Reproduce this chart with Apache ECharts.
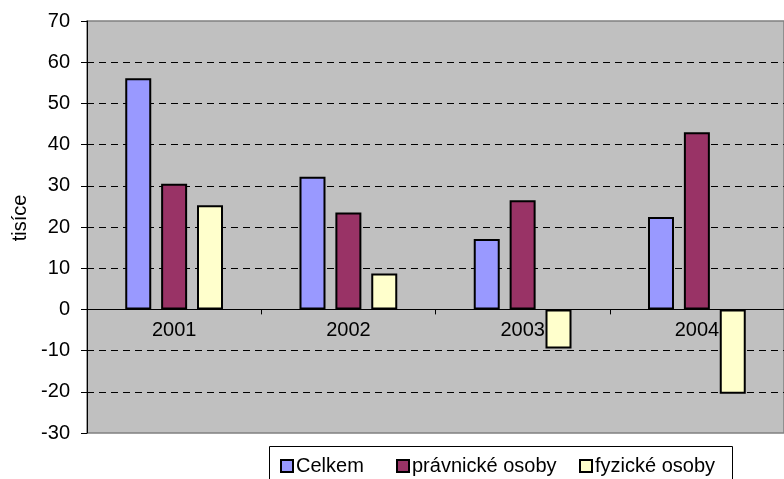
<!DOCTYPE html>
<html>
<head>
<meta charset="utf-8">
<script src="https://cdn.jsdelivr.net/npm/echarts@6/dist/echarts.min.js"></script>
<style>
html, body { margin: 0; padding: 0; background: #fff; }
#container { width: 784px; height: 479px; }
</style>
</head>
<body>
<div id="container"></div>
<script>
var roky = ['2001', '2002', '2003', '2004'];
var celkem = [56.1, 32.2, 17.1, 22.4];
var pravnicke = [30.5, 23.5, 26.5, 43.0];
var fyzicke = [25.3, 8.7, -9.5, -20.5];
var nazvy = ['Celkem', 'právnické osoby', 'fyzické osoby'];
var barvy = ['#9999FF', '#993366', '#FFFFCC'];

var dom = document.getElementById("container");
var myChart = echarts.init(dom);
var pismo = 'Liberation Sans, Arial, sans-serif';

function rada(i, data) {
	return {
		name : nazvy[i],
		type : 'bar',
		data : data,
		barWidth : 26,
		barGap : '38%',
		itemStyle : {
			color : barvy[i],
			borderColor : '#000',
			borderWidth : 2
		}
	};
}

function legenda(i, x) {
	return {
		data : [ nazvy[i] ],
		left : x,
		top : 456,
		icon : 'rect',
		itemWidth : 12,
		itemHeight : 12,
		itemGap : 0,
		padding : 0,
		selectedMode : false,
		textStyle : { fontFamily : pismo, fontSize : 20, color : '#000', padding : [0, 0, 0, -2] }
	};
}

var option = {
	animation : false,
	grid : {
		left : 87,
		top : 21,
		width : 708,
		height : 412,
		show : true,
		backgroundColor : '#C0C0C0',
		borderColor : '#808080',
		borderWidth : 1.5
	},
	legend : [ legenda(0, 280), legenda(1, 396), legenda(2, 579) ],
	graphic : [ {
		type : 'rect',
		shape : { x : 269.5, y : 446.5, width : 463, height : 40 },
		style : { fill : 'none', stroke : '#000', lineWidth : 1 },
		z : -1
	} ],
	xAxis : {
		type : 'category',
		data : roky,
		position : 'bottom',
		offset : -123.6,
		axisLine : { onZero : false, lineStyle : { color : '#000', width : 1 } },
		axisTick : { show : true, length : 5, lineStyle : { color : '#000' } },
		axisLabel : { fontFamily : pismo, fontSize : 20, color : '#000', margin : 11 },
		splitLine : { show : false }
	},
	yAxis : {
		type : 'value',
		min : -30,
		max : 70,
		interval : 10,
		name : 'tisíce',
		nameLocation : 'middle',
		nameGap : 56,
		nameTextStyle : { fontFamily : pismo, fontSize : 20, color : '#000', padding : [0, 0, 0, 18] },
		axisLine : { show : true, lineStyle : { color : '#000', width : 1 } },
		axisTick : { show : true, length : 6, lineStyle : { color : '#000' } },
		axisLabel : { fontFamily : pismo, fontSize : 20, color : '#000', margin : 17 },
		splitLine : {
			show : true,
			showMinLine : false,
			showMaxLine : false,
			lineStyle : { color : '#000', type : [7, 5], width : 1 }
		}
	},
	series : [ rada(0, celkem), rada(1, pravnicke), rada(2, fyzicke) ]
};

myChart.setOption(option, true);
</script>
</body>
</html>
